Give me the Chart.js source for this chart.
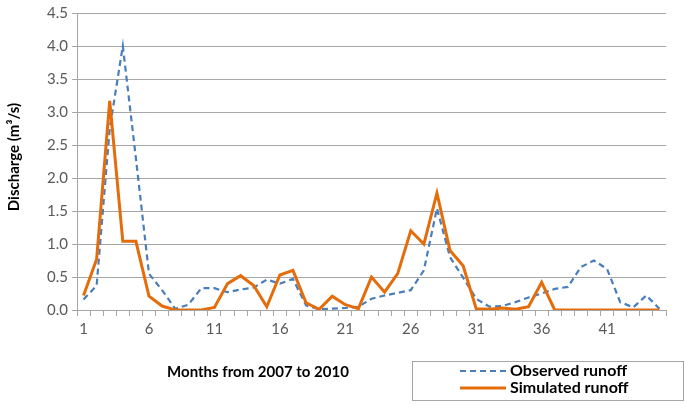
<!DOCTYPE html>
<html>
<head>
<meta charset="utf-8">
<script src="https://cdn.jsdelivr.net/npm/chart.js@4.4.1/dist/chart.umd.min.js"></script>
<style>
  html, body { margin: 0; padding: 0; background: #fff; }
  #wrap { position: relative; width: 685px; height: 405px; }
</style>
</head>
<body>
<div id="wrap"><canvas id="c" width="685" height="405"></canvas></div>
<script>
const months = Array.from({length: 45}, (_, i) => String(i + 1));
const observed = [0.16,0.37,2.75,4.0,2.3,0.55,0.30,0.02,0.08,0.33,
                  0.33,0.27,0.31,0.34,0.46,0.40,0.47,0.07,0.01,0.02,
                  0.03,0.05,0.17,0.22,0.26,0.30,0.60,1.54,0.80,0.49,
                  0.17,0.05,0.06,0.12,0.19,0.25,0.32,0.35,0.65,0.75,
                  0.62,0.12,0.04,0.22,0.02];
const simulated = [0.22,0.77,3.17,1.04,1.04,0.21,0.06,0,0,0,
                   0.04,0.40,0.52,0.37,0.05,0.53,0.60,0.11,0.01,0.21,
                   0.08,0.02,0.50,0.27,0.55,1.20,1.00,1.77,0.90,0.67,
                   0.02,0.01,0.03,0.01,0.05,0.42,0,0,0,0,
                   0,0,0,0,0];
const yTicks = [0,0.5,1.0,1.5,2.0,2.5,3.0,3.5,4.0,4.5];
const seriesNames = ['Observed runoff', 'Simulated runoff'];
const xTitle = 'Months from 2007 to 2010';
const yTitle = 'Discharge (m\u00B3/s)';

const BLUE = '#4a7ebb', ORANGE = '#e46c0a';
const FONT = 'Lato, "Liberation Sans", sans-serif';

const decor = {
  id: 'decor',
  afterDraw(chart) {
    const ctx = chart.ctx;
    ctx.save();
    ctx.fillStyle = '#000';
    ctx.font = 'bold 15px ' + FONT;
    ctx.textAlign = 'center';
    ctx.textBaseline = 'middle';
    ctx.translate(14, 157);
    ctx.rotate(-Math.PI / 2);
    ctx.fillText(yTitle, 0, 0);
    ctx.restore();
    ctx.save();
    ctx.fillStyle = '#000';
    ctx.font = 'bold 15px ' + FONT;
    ctx.textAlign = 'center';
    ctx.textBaseline = 'middle';
    ctx.fillText(xTitle, 258, 372);
    ctx.strokeStyle = '#a6a6a6';
    ctx.lineWidth = 1;
    ctx.strokeRect(412.5, 361.5, 271, 39);
    const ds = chart.data.datasets;
    const rows = [371, 388];
    ctx.font = 'bold 16px ' + FONT;
    ds.forEach((d, i) => {
      ctx.beginPath();
      ctx.strokeStyle = d.borderColor;
      ctx.lineWidth = d.borderWidth;
      ctx.setLineDash(d.borderDash || []);
      ctx.moveTo(460, rows[i]);
      ctx.lineTo(506, rows[i]);
      ctx.stroke();
      ctx.setLineDash([]);
      ctx.fillStyle = '#000';
      ctx.textAlign = 'left';
      ctx.fillText(d.label, 510, rows[i]);
    });
    ctx.restore();
  }
};

new Chart(document.getElementById('c'), {
  type: 'line',
  data: {
    labels: months,
    datasets: [
      { label: seriesNames[0], data: observed, borderColor: BLUE, borderWidth: 2.2,
        borderDash: [6, 4], pointRadius: 0, tension: 0, fill: false, order: 2 },
      { label: seriesNames[1], data: simulated, borderColor: ORANGE, borderWidth: 3,
        pointRadius: 0, tension: 0, fill: false, order: 1 }
    ]
  },
  options: {
    responsive: false,
    animation: false,
    devicePixelRatio: 1,
    layout: { padding: { left: 0, right: 19, top: 8, bottom: 0 } },
    plugins: { legend: { display: false }, tooltip: { enabled: false } },
    scales: {
      x: {
        type: 'category',
        offset: true,
        grid: { offset: true, drawOnChartArea: false, drawTicks: true, tickLength: 6, color: '#a6a6a6' },
        border: { display: true, color: '#a6a6a6' },
        ticks: {
          autoSkip: false, maxRotation: 0, padding: 4,
          color: '#595959', font: { family: FONT, size: 15 },
          callback: function(v, i) { return i % 5 === 0 ? this.getLabelForValue(v) : ''; }
        },
        afterFit(scale) { scale.height = 95; }
      },
      y: {
        min: 0, max: 4.5,
        afterBuildTicks(scale) { scale.ticks = yTicks.map(v => ({ value: v })); },
        grid: { color: '#a6a6a6', tickLength: 5, drawTicks: true },
        border: { display: true, color: '#a6a6a6' },
        ticks: {
          padding: 4, color: '#595959', font: { family: FONT, size: 15 },
          callback: v => Number(v).toFixed(1)
        },
        afterFit(scale) { scale.width = 77; }
      }
    }
  },
  plugins: [decor]
});
</script>
</body>
</html>
